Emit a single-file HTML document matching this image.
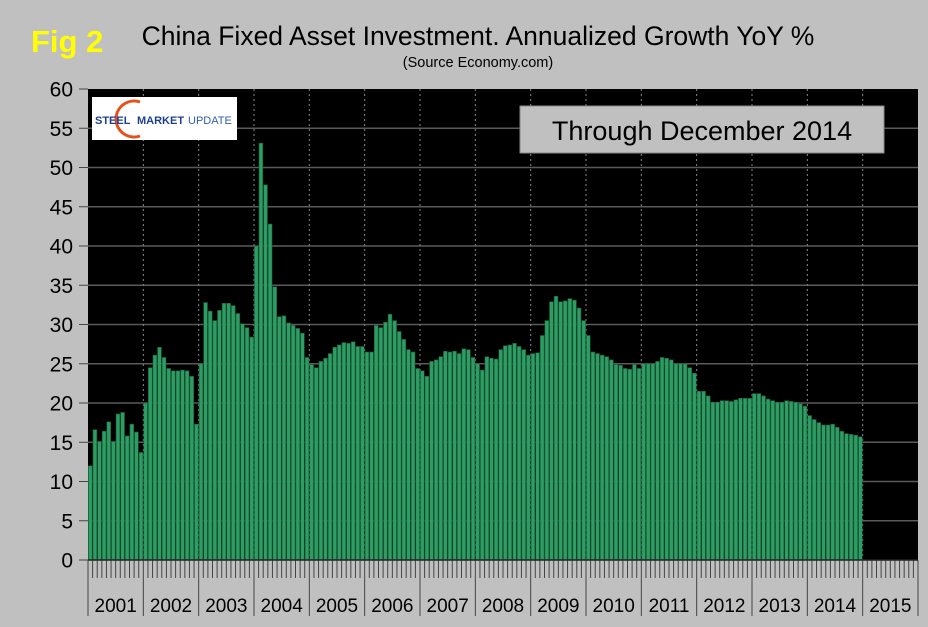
<!DOCTYPE html>
<html><head><meta charset="utf-8"><style>
html,body{margin:0;padding:0;background:#c0c0c0;}
svg{display:block;font-family:"Liberation Sans",Arial,sans-serif;}
</style></head><body>
<svg id="chart" width="928" height="627" viewBox="0 0 928 627">
<rect x="0" y="0" width="928" height="627" fill="#c0c0c0"/>
<text x="31" y="52" font-size="31" font-weight="bold" fill="#ffff00">Fig 2</text>
<text x="478" y="45" font-size="26.5" text-anchor="middle" fill="#000">China Fixed Asset Investment. Annualized Growth YoY %</text>
<text x="478" y="67" font-size="14.5" text-anchor="middle" fill="#000">(Source Economy.com)</text>
<rect x="88" y="89" width="830" height="471" fill="#000"/>
<g id="grid"></g>
<g id="bars"></g>
<g id="axes"></g>
<g>
<rect x="92" y="97" width="145" height="43" fill="#fff"/>
<path d="M140,102 A18,18 0 1,0 140,136" fill="none" stroke="#e8501a" stroke-width="3"/>
<text x="95" y="124" font-size="11" font-weight="bold" fill="#1f3f8f">STEEL</text>
<text x="137" y="124" font-size="11" font-weight="bold" fill="#1f3f8f">MARKET</text>
<text x="188" y="124" font-size="11" fill="#2f5fa8">UPDATE</text>
</g>
<g>
<rect x="520" y="106" width="364" height="47" fill="#c0c0c0" stroke="#888"/>
<text x="702" y="140" font-size="27" text-anchor="middle" fill="#000">Through December 2014</text>
</g>
</svg>
<script>
const years = ["2001","2002","2003","2004","2005","2006","2007","2008","2009","2010","2011","2012","2013","2014","2015"];
const yTicks = [0,5,10,15,20,25,30,35,40,45,50,55,60];
const growth2001_2003 = [12.0,16.6,15.1,16.4,17.6,15.1,18.6,18.8,15.8,17.3,16.3,13.7,
 20.0,24.5,26.1,27.1,25.8,24.4,24.1,24.1,24.2,24.1,23.4,17.3,
 25.0,32.8,31.7,30.5,31.8,32.7,32.7,32.4,31.4,30.1,29.6,28.4];
const growth2004_2006 = [40.0,53.1,47.8,42.8,34.8,31.0,31.1,30.2,29.9,29.5,28.9,25.8,
 24.9,24.5,25.3,25.7,26.3,27.1,27.4,27.7,27.6,27.8,27.2,27.2,
 26.5,26.5,29.9,29.6,30.3,31.3,30.5,29.1,28.1,26.8,26.5,24.4];
const growth2007_2009 = [24.1,23.4,25.3,25.5,25.9,26.6,26.5,26.6,26.3,26.9,26.8,25.8,
 25.0,24.2,25.9,25.7,25.6,26.8,27.3,27.4,27.6,27.2,26.8,26.1,
 26.3,26.4,28.6,30.5,32.9,33.6,32.9,33.0,33.3,33.1,32.1,30.5];
const growth2010_2012 = [28.6,26.5,26.3,26.1,25.9,25.5,24.9,24.8,24.4,24.3,24.9,24.4,
 25.0,25.0,25.0,25.3,25.8,25.7,25.5,25.0,25.0,25.0,24.5,23.8,
 21.5,21.5,20.9,20.1,20.1,20.3,20.3,20.2,20.4,20.6,20.6,20.6];
const growth2013_2014 = [21.2,21.2,20.9,20.5,20.3,20.1,20.1,20.3,20.2,20.1,19.9,19.6,
 18.4,17.9,17.5,17.2,17.2,17.3,16.9,16.4,16.1,16.0,15.9,15.7];
const values = growth2001_2003.concat(growth2004_2006, growth2007_2009, growth2010_2012, growth2013_2014);

const NS="http://www.w3.org/2000/svg";
const X0=88, X1=918, Y0=560, Y1=89, YMAX=60;
const nMonths = years.length*12;
const mw = (X1-X0)/nMonths;
const xm = i => X0 + i*mw;
const yv = v => Y0 - v/YMAX*(Y0-Y1);
function mk(tag, attrs, parent){const e=document.createElementNS(NS,tag);for(const k in attrs)e.setAttribute(k,attrs[k]);parent.appendChild(e);return e;}
const grid=document.getElementById('grid'), bars=document.getElementById('bars'), axes=document.getElementById('axes');

yTicks.forEach(t=>{
  const y=yv(t);
  if(t>0&&t<YMAX){const l=mk('line',{x1:X0,x2:X1,y1:y,y2:y,stroke:'#5a5a5a','stroke-width':1.5},grid);
  
  }
  const tk=mk('line',{x1:79,x2:X0,y1:y,y2:y,stroke:'#444','stroke-width':1},axes);
  
  
  const tx=mk('text',{x:73,y:y+7.5,'font-size':21,'text-anchor':'end',fill:'#000'},axes);
  tx.textContent=t;
  
  
});
years.forEach((yr,k)=>{
  const x=xm(k*12);
  if(k>0){const d=mk('line',{x1:x,x2:x,y1:Y1,y2:Y0,stroke:'#888','stroke-width':1,'stroke-dasharray':'2,3'},grid);
  
  }
  const s=mk('line',{x1:x,x2:x,y1:Y0,y2:616,stroke:'#444','stroke-width':1},axes);
  
  
  const t=mk('text',{x:x+mw*6,y:612,'font-size':19,'text-anchor':'middle',fill:'#000'},axes);
  t.textContent=yr;
  
  
});
const endSep=mk('line',{x1:X1,x2:X1,y1:Y0,y2:616,stroke:'#444','stroke-width':1},axes);


for(let i=1;i<nMonths;i++){
  if(i%12===0)continue;
  const m=mk('line',{x1:xm(i),x2:xm(i),y1:Y0,y2:578,stroke:'#444','stroke-width':1},axes);
  
  
}
const ax=mk('line',{x1:X0,x2:X1,y1:Y0,y2:Y0,stroke:'#222','stroke-width':1.5},axes);



values.forEach((v,i)=>{
  const y=yv(v);
  const r=mk('rect',{x:xm(i)+0.4,y:y,width:mw-0.8,height:Y0-y,fill:'#2e9d64',stroke:'#1a5a38','stroke-width':0.6},bars);
  
  
});
</script>
</body></html>
